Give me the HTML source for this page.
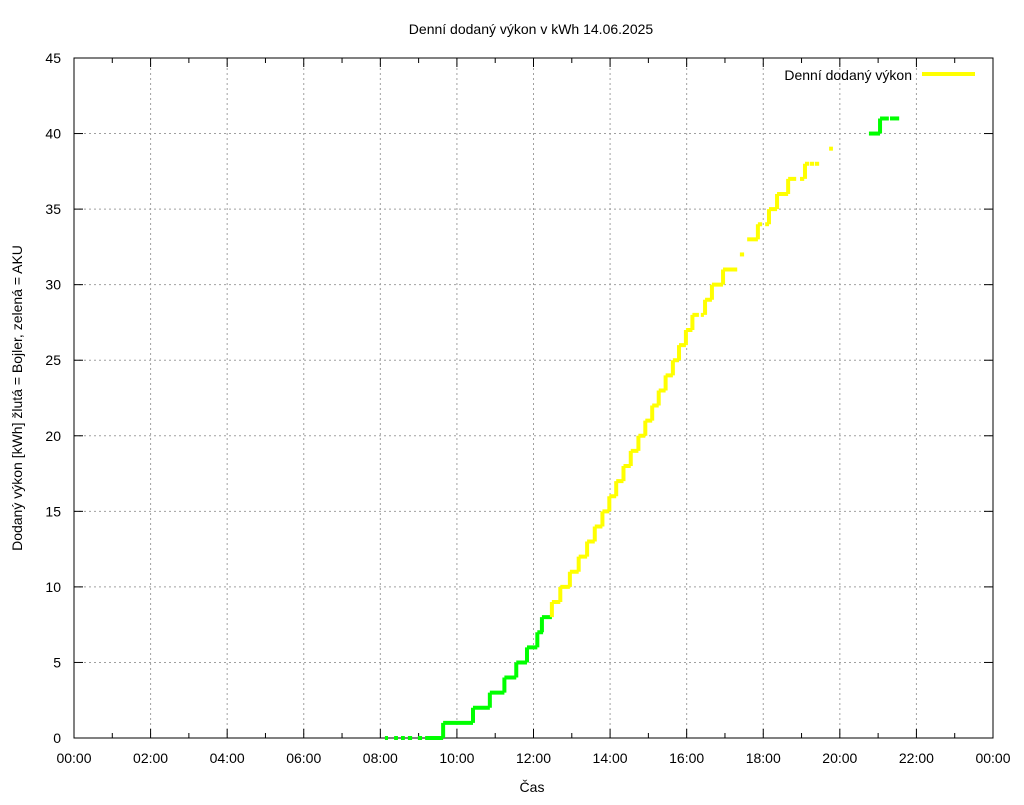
<!DOCTYPE html>
<html><head><meta charset="utf-8"><style>
body{margin:0;background:#fff;}
svg text{font-family:"Liberation Sans",sans-serif;font-size:14px;fill:#000;}
</style></head><body>
<svg id="chart" width="1024" height="800" xmlns="http://www.w3.org/2000/svg">
<rect width="1024" height="800" fill="#fff"/>
<g id="grid"></g><g id="axes"></g><g id="series"></g>
<text x="531" y="34" text-anchor="middle">Denní dodaný výkon v kWh 14.06.2025</text>
<text x="532" y="792" text-anchor="middle">Čas</text>
<text transform="translate(22,398) rotate(-90)" text-anchor="middle">Dodaný výkon [kWh]  žlutá = Bojler, zelená = AKU</text>
<g>
<text x="912" y="80" text-anchor="end">Denní dodaný výkon</text>
<line x1="922" y1="74" x2="975" y2="74" stroke="#ffff00" stroke-width="4"/>
</g>
</svg>
<script>
const xTickLabels=["00:00","02:00","04:00","06:00","08:00","10:00","12:00","14:00","16:00","18:00","20:00","22:00","00:00"];
const yTickLabels=["0","5","10","15","20","25","30","35","40","45"];
const segStart=[8.12,8.36,8.54,8.72,8.98,9.17,9.64,10.42,10.86,11.24,11.55,11.83,12.1,12.22,12.48,12.7,12.95,13.18,13.4,13.6,13.8,13.98,14.16,14.35,14.54,14.74,14.92,15.1,15.27,15.45,15.64,15.8,15.98,16.15,16.37,16.48,16.66,16.95,17.39,17.58,17.86,18.05,18.15,18.36,18.65,18.96,19.09,19.22,19.35,19.72,20.76,21.05,21.31];
const segEnd=[8.2,8.46,8.64,8.83,9.09,9.64,10.42,10.86,11.24,11.55,11.83,12.1,12.25,12.48,12.7,12.95,13.18,13.4,13.6,13.8,13.98,14.16,14.35,14.54,14.74,14.92,15.1,15.27,15.45,15.64,15.8,15.98,16.15,16.32,16.45,16.66,16.95,17.32,17.5,17.86,17.97,18.15,18.36,18.65,18.86,19.07,19.2,19.33,19.46,19.82,21.05,21.28,21.55];
const segValue=[0,0,0,0,0,0,1,2,3,4,5,6,7,8,9,10,11,12,13,14,15,16,17,18,19,20,21,22,23,24,25,26,27,28,28,29,30,31,32,33,34,34,35,36,37,37,38,38,38,39,40,41,41];
const segColor=["g","g","g","g","g","g","g","g","g","g","g","g","g","g","y","y","y","y","y","y","y","y","y","y","y","y","y","y","y","y","y","y","y","y","y","y","y","y","y","y","y","y","y","y","y","y","y","y","y","y","g","g","g"];
const NS="http://www.w3.org/2000/svg";
const X0=74,X1=993,Y0=738,Y1=58;
const xs=h=>X0+(X1-X0)*h/24;
const ys=v=>Y0-(Y0-Y1)*v/45;
function mk(tag,attrs,parent){const e=document.createElementNS(NS,tag);for(const k in attrs)e.setAttribute(k,attrs[k]);parent.appendChild(e);return e;}
const grid=document.getElementById('grid'),axes=document.getElementById('axes'),series=document.getElementById('series');
xTickLabels.forEach((l,i)=>{const x=xs(i*2);
 if(i>0&&i<12){const g=mk('line',{x1:x,y1:Y1,x2:x,y2:Y0,stroke:'#a0a0a0','stroke-dasharray':'2,3'},grid);
 
 }
 const t=mk('text',{x:x,y:763,'text-anchor':'middle'},axes);t.textContent=l;
 
 
 mk('line',{x1:x,y1:Y0,x2:x,y2:Y0-9,stroke:'#000'},axes);mk('line',{x1:x,y1:Y1,x2:x,y2:Y1+9,stroke:'#000'},axes);});
for(let h=1;h<24;h+=2){const x=xs(h);mk('line',{x1:x,y1:Y0,x2:x,y2:Y0-5,stroke:'#000'},axes);mk('line',{x1:x,y1:Y1,x2:x,y2:Y1+5,stroke:'#000'},axes);}
yTickLabels.forEach((l,i)=>{const y=ys(+l);
 if(i>0&&i<9){const g=mk('line',{x1:X0,y1:y,x2:X1,y2:y,stroke:'#a0a0a0','stroke-dasharray':'2,3'},grid);
 
 }
 const t=mk('text',{x:61,y:y+5,'text-anchor':'end'},axes);t.textContent=l;
 
 
 mk('line',{x1:X0,y1:y,x2:X0+9,y2:y,stroke:'#000'},axes);mk('line',{x1:X1,y1:y,x2:X1-9,y2:y,stroke:'#000'},axes);});
const fr=mk('rect',{x:X0,y:Y1,width:X1-X0,height:Y0-Y1,fill:'none',stroke:'#000'},axes);


const col={g:'#00ff00',y:'#ffff00'};
segStart.forEach((s,i)=>{const c=col[segColor[i]];
 let d='';
 if(i>0&&Math.abs(segEnd[i-1]-s)<0.04&&segValue[i]!==segValue[i-1])d+='M'+xs(s)+','+ys(segValue[i-1])+'L'+xs(s)+','+ys(segValue[i]);
 d+='M'+xs(s)+','+ys(segValue[i])+'L'+xs(segEnd[i])+','+ys(segValue[i]);
 const p=mk('path',{d:d,stroke:c,'stroke-width':4,fill:'none'},series);
 
 });
</script>
</body></html>
